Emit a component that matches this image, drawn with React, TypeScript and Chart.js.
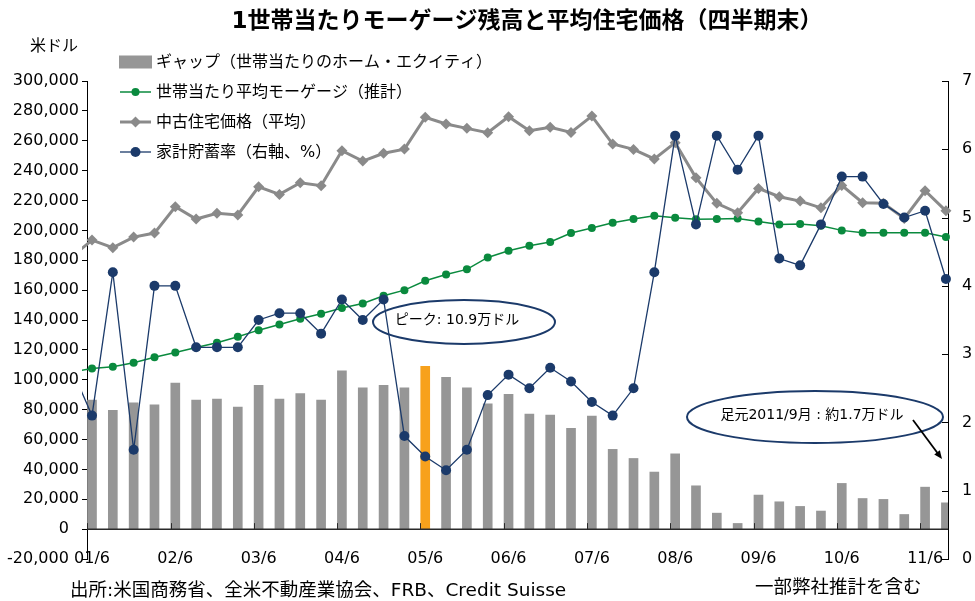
import React, { useEffect, useRef } from 'react';
import { Chart, registerables } from 'chart.js';

Chart.register(...registerables);

// ---------- text ----------
const TITLE = '1世帯当たりモーゲージ残高と平均住宅価格（四半期末）';
const LEFT_UNIT = '米ドル';
const SOURCE_NOTE = '出所:米国商務省、全米不動産業協会、FRB、Credit Suisse';
const ESTIMATE_NOTE = '一部弊社推計を含む';
const PEAK_NOTE = 'ピーク: 10.9万ドル';
const LATEST_NOTE = '足元2011/9月 : 約1.7万ドル';

const LABEL_GAP = 'ギャップ（世帯当たりのホーム・エクイティ）';
const LABEL_MORTGAGE = '世帯当たり平均モーゲージ（推計）';
const LABEL_PRICE = '中古住宅価格（平均）';
const LABEL_SAVINGS = '家計貯蓄率（右軸、%）';

// ---------- data ----------
const QUARTERS = [
  '01/3', '01/6', '01/9', '01/12',
  '02/3', '02/6', '02/9', '02/12',
  '03/3', '03/6', '03/9', '03/12',
  '04/3', '04/6', '04/9', '04/12',
  '05/3', '05/6', '05/9', '05/12',
  '06/3', '06/6', '06/9', '06/12',
  '07/3', '07/6', '07/9', '07/12',
  '08/3', '08/6', '08/9', '08/12',
  '09/3', '09/6', '09/9', '09/12',
  '10/3', '10/6', '10/9', '10/12',
  '11/3', '11/6', '11/9',
];

// household equity gap (US$)
const GAP: (number | null)[] = [
  null, 86400, 79500, 84600,
  83200, 97700, 86400, 87000,
  81700, 96200, 87000, 90800,
  86400, 106000, 94600, 96200,
  94600, 109000, 101600, 94600,
  83900, 90200, 77000, 76300,
  67400, 75700, 53400, 47300,
  38200, 50400, 29000, 10700,
  3800, 22800, 18300, 15200,
  12100, 30600, 20500, 19900,
  9800, 28100, 17600,
];

// average mortgage per household (US$)
const MORTGAGE = [
  105000, 107600, 108700, 111400,
  115000, 118300, 121600, 124800,
  128800, 133200, 137000, 140800,
  144200, 148000, 151100, 156200,
  160000, 166300, 170500, 173900,
  181900, 186400, 189700, 192200,
  198200, 201600, 205100, 207600,
  209800, 208500, 207400, 207600,
  208000, 206000, 204000, 204200,
  203100, 200000, 198400, 198400,
  198400, 198400, 195500,
];

// existing home price, average (US$)
const HOME_PRICE = [
  182000, 193500, 188400, 195500,
  198200, 215800, 207600, 211400,
  210300, 229200, 224100, 231900,
  229900, 253300, 246400, 251600,
  254400, 275700, 271200, 268300,
  265400, 276100, 266700, 269000,
  265600, 276500, 257800, 254200,
  247800, 258700, 235200, 218100,
  211800, 228100, 222500, 219600,
  215100, 230100, 218500, 218100,
  208000, 226500, 213100,
];

// household savings rate (%, right axis)
const SAVINGS_RATE = [
  2.8, 2.1, 4.2, 1.6,
  4.0, 4.0, 3.1, 3.1,
  3.1, 3.5, 3.6, 3.6,
  3.3, 3.8, 3.5, 3.8,
  1.8, 1.5, 1.3, 1.6,
  2.4, 2.7, 2.5, 2.8,
  2.6, 2.3, 2.1, 2.5,
  4.2, 6.2, 4.9, 6.2,
  5.7, 6.2, 4.4, 4.3,
  4.9, 5.6, 5.6, 5.2,
  5.0, 5.1, 4.1,
];

const LEFT_MIN = -20000;
const LEFT_MAX = 300000;
const LEFT_STEP = 20000;
const RIGHT_MIN = 0;
const RIGHT_MAX = 7;
const RIGHT_STEP = 1;

// ---------- styles ----------
const C_BAR = '#969696';
const C_PEAK = '#F7A11C';
const C_GREEN = '#0A8A3E';
const C_PRICE = '#8A8A8A';
const C_NAVY = '#1B3A6A';
const NUM_FONT = '"DejaVu Sans", "Noto Sans CJK JP", sans-serif';
const JP_FONT = '"DejaVu Sans", "Noto Sans CJK JP", sans-serif';

const PEAK_INDEX = GAP.reduce<number>((best, v, i) => (v !== null && (GAP[best] === null || v > (GAP[best] as number)) ? i : best), 0);

const toXY = (arr: (number | null)[]) => arr.map((v, i) => ({ x: i, y: v }));

const decorPlugin = {
  id: 'decor',
  afterLayout(chart: any) {
    // let x tick labels sit over the bottom edge of the plot area (no clipping)
    const xs = chart.scales.x;
    if (xs) xs._computeLabelArea = () => undefined;
  },
  afterDatasetsDraw(chart: any) {
    const { ctx, chartArea: a, scales } = chart;
    const xs = scales.x;
    const ys = scales.y;
    const yr = scales.y1;
    ctx.save();
    // zero line
    const y0 = ys.getPixelForValue(0);
    ctx.strokeStyle = '#2a2a2a';
    ctx.lineWidth = 1.5;
    ctx.beginPath();
    ctx.moveTo(a.left, y0);
    ctx.lineTo(a.right, y0);
    ctx.stroke();
    // category tick marks
    ctx.lineWidth = 1;
    QUARTERS.forEach((q, i) => {
      if (!q.endsWith('/6')) return;
      const px = Math.round(xs.getPixelForValue(i - 0.23)) + 0.5;
      if (px < a.left) return;
      ctx.beginPath();
      ctx.moveTo(px, y0);
      ctx.lineTo(px, y0 - 6);
      ctx.stroke();
    });
    // right axis inward ticks
    ctx.strokeStyle = '#000';
    yr.ticks.forEach((t: any) => {
      const py = Math.round(yr.getPixelForValue(t.value)) + 0.5;
      ctx.beginPath();
      ctx.moveTo(a.right - 6, py);
      ctx.lineTo(a.right, py);
      ctx.stroke();
    });
    ctx.restore();
  },
  afterDraw(chart: any) {
    const { ctx } = chart;
    ctx.save();
    ctx.fillStyle = '#000';
    ctx.textBaseline = 'middle';

    // title
    ctx.font = `bold 23px ${JP_FONT}`;
    ctx.textAlign = 'center';
    ctx.fillText(TITLE, 527, 22);

    // unit
    ctx.font = `16px ${JP_FONT}`;
    ctx.textAlign = 'left';
    ctx.fillText(LEFT_UNIT, 30, 47);

    // legend
    chart.data.datasets.forEach((ds: any, k: number) => {
      const cy = 62 + k * 30;
      if (ds.type === 'bar') {
        ctx.fillStyle = C_BAR;
        ctx.fillRect(119, cy - 6.5, 33, 13);
      } else {
        ctx.strokeStyle = ds.borderColor;
        ctx.lineWidth = ds.borderWidth;
        ctx.beginPath();
        ctx.moveTo(120, cy);
        ctx.lineTo(151, cy);
        ctx.stroke();
        ctx.fillStyle = ds.pointBackgroundColor;
        const r = ds.pointRadius;
        ctx.beginPath();
        if (ds.pointStyle === 'rectRot') {
          ctx.moveTo(135.5, cy - r);
          ctx.lineTo(135.5 + r, cy);
          ctx.lineTo(135.5, cy + r);
          ctx.lineTo(135.5 - r, cy);
          ctx.closePath();
        } else {
          ctx.arc(135.5, cy, r, 0, Math.PI * 2);
        }
        ctx.fill();
      }
      ctx.fillStyle = '#000';
      ctx.font = `16px ${JP_FONT}`;
      ctx.fillText(ds.label, 156, cy + 1);
    });

    // peak annotation
    ctx.strokeStyle = C_NAVY;
    ctx.lineWidth = 2;
    ctx.beginPath();
    ctx.ellipse(464, 322, 91, 22, 0, 0, Math.PI * 2);
    ctx.stroke();
    ctx.font = `14px ${JP_FONT}`;
    ctx.textAlign = 'center';
    ctx.fillText(PEAK_NOTE, 457, 320);

    // latest annotation
    ctx.beginPath();
    ctx.ellipse(815, 417, 128, 26, 0, 0, Math.PI * 2);
    ctx.stroke();
    ctx.fillText(LATEST_NOTE, 812, 415);

    // arrow
    ctx.strokeStyle = '#000';
    ctx.fillStyle = '#000';
    ctx.lineWidth = 1.8;
    const x1 = 913, y1 = 420, x2 = 942, y2 = 459;
    const ang = Math.atan2(y2 - y1, x2 - x1);
    ctx.beginPath();
    ctx.moveTo(x1, y1);
    ctx.lineTo(x2 - 6 * Math.cos(ang), y2 - 6 * Math.sin(ang));
    ctx.stroke();
    ctx.beginPath();
    ctx.moveTo(x2, y2);
    ctx.lineTo(x2 - 9 * Math.cos(ang - 0.4), y2 - 9 * Math.sin(ang - 0.4));
    ctx.lineTo(x2 - 9 * Math.cos(ang + 0.4), y2 - 9 * Math.sin(ang + 0.4));
    ctx.closePath();
    ctx.fill();

    // footers
    ctx.fillStyle = '#000';
    ctx.font = `18.5px ${JP_FONT}`;
    ctx.textAlign = 'left';
    ctx.fillText(SOURCE_NOTE, 70, 591);
    ctx.font = `18.5px ${JP_FONT}`;
    ctx.fillText(ESTIMATE_NOTE, 755, 588);
    ctx.restore();
  },
};

export default function App() {
  const ref = useRef<HTMLCanvasElement>(null);

  useEffect(() => {
    document.body.style.margin = '0';
    const lineClip = { left: 5, top: 10, right: 8, bottom: 10 };
    const chart = new Chart(ref.current as HTMLCanvasElement, {
      type: 'line',
      data: {
        datasets: [
          {
            type: 'bar',
            label: LABEL_GAP,
            data: toXY(GAP) as any,
            yAxisID: 'y',
            backgroundColor: (c: any) => (c.dataIndex === PEAK_INDEX ? C_PEAK : C_BAR),
            barThickness: 9,
            order: 4,
          },
          {
            type: 'line',
            label: LABEL_MORTGAGE,
            data: toXY(MORTGAGE) as any,
            yAxisID: 'y',
            borderColor: C_GREEN,
            borderWidth: 1.5,
            pointRadius: 4,
            pointBorderWidth: 0,
            pointBackgroundColor: C_GREEN,
            pointStyle: 'circle',
            clip: lineClip as any,
            order: 3,
          },
          {
            type: 'line',
            label: LABEL_PRICE,
            data: toXY(HOME_PRICE) as any,
            yAxisID: 'y',
            borderColor: C_PRICE,
            borderWidth: 3,
            pointRadius: 5.5,
            pointBorderWidth: 0,
            pointBackgroundColor: C_PRICE,
            pointStyle: 'rectRot',
            clip: lineClip as any,
            order: 2,
          },
          {
            type: 'line',
            label: LABEL_SAVINGS,
            data: toXY(SAVINGS_RATE) as any,
            yAxisID: 'y1',
            borderColor: C_NAVY,
            borderWidth: 1.3,
            pointRadius: 5,
            pointBorderWidth: 0,
            pointBackgroundColor: C_NAVY,
            pointStyle: 'circle',
            clip: lineClip as any,
            order: 1,
          },
        ] as any,
      },
      options: {
        responsive: false,
        animation: false,
        devicePixelRatio: 1,
        events: [],
        layout: { padding: { top: 81, left: 0, right: 0, bottom: 0 } },
        plugins: {
          legend: { display: false },
          title: { display: false },
          tooltip: { enabled: false },
        },
        scales: {
          x: {
            type: 'linear',
            min: 0.76,
            max: 42.1,
            offset: false,
            grid: { display: false, offset: false, drawTicks: false },
            border: { display: false },
            afterBuildTicks: (scale: any) => {
              scale.ticks = QUARTERS.map((q, i) => ({ value: i, q }))
                .filter((t) => t.q.endsWith('/6'))
                .map((t) => ({ value: t.value }));
            },
            afterFit: (scale: any) => {
              scale.height = 42;
            },
            ticks: {
              autoSkip: false,
              maxRotation: 0,
              minRotation: 0,
              padding: -10,
              color: '#000',
              font: { family: NUM_FONT, size: 16 },
              callback: (v: any) => QUARTERS[Math.round(Number(v))] ?? '',
            },
          },
          y: {
            type: 'linear',
            position: 'left',
            min: LEFT_MIN,
            max: LEFT_MAX,
            grid: { drawOnChartArea: false, drawTicks: true, tickLength: 5, color: '#000' },
            border: { display: true, color: '#000', width: 1 },
            afterFit: (scale: any) => {
              scale.width = 87;
            },
            ticks: {
              stepSize: LEFT_STEP,
              padding: 3,
              color: '#000',
              font: { family: NUM_FONT, size: 16 },
              callback: (v: any) => {
                const n = Number(v);
                const s = n.toLocaleString('en-US');
                return n <= 0 ? s + '  ' : s;
              },
            },
          },
          y1: {
            type: 'linear',
            position: 'right',
            min: RIGHT_MIN,
            max: RIGHT_MAX,
            grid: { drawOnChartArea: false, drawTicks: false },
            border: { display: true, color: '#000', width: 1 },
            afterFit: (scale: any) => {
              scale.width = 27;
            },
            ticks: {
              stepSize: RIGHT_STEP,
              padding: 14,
              color: '#000',
              font: { family: NUM_FONT, size: 16 },
            },
          },
        },
      } as any,
      plugins: [decorPlugin],
    });
    return () => chart.destroy();
  }, []);

  return (
    <div style={{ position: 'relative', width: 975, height: 601, background: '#fff' }}>
      <canvas ref={ref} width={975} height={601} style={{ display: 'block' }} />
    </div>
  );
}
